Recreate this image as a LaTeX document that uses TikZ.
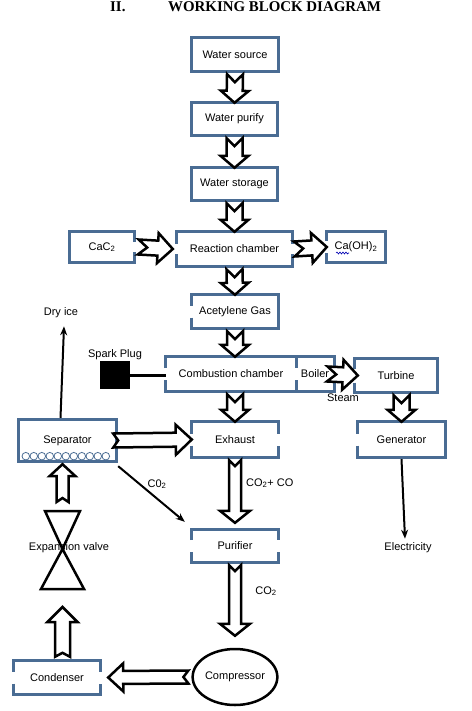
\documentclass[tikz,border=0pt]{standalone}
\usepackage{fontspec}
\setmainfont{Liberation Sans}
\newfontfamily\titlefont{Liberation Serif}
\usetikzlibrary{calc,shapes.geometric,decorations.pathmorphing,arrows.meta}
\definecolor{bdblue}{HTML}{4A6C93}
\tikzset{
  bd/.style={draw=bdblue, line width=3pt, line join=miter},
  lbl/.style={font=\fontsize{11}{13}\selectfont, inner sep=0pt},
  blk/.style={lbl, draw=none},
  barr/.style={draw=black, fill=white, line width=2.5pt, line join=miter},
  tarrow/.style={-{Stealth[length=9pt,width=7pt]}, line width=2pt},
  ttl/.style={font=\titlefont\bfseries\fontsize{14.9}{16}\selectfont, inner sep=0pt, anchor=base west}
}
\newcommand\bxFull[1]{\draw[bd] (#1.north west) rectangle (#1.south east);}
\newcommand\bxGL[2]{\draw[bd] ($(#1.west)+(0,#2)$) -- (#1.south west) -- (#1.south east) -- (#1.north east) -- (#1.north west) -- ($(#1.west)+(0,-#2)$);}
\newcommand\bxGR[2]{\draw[bd] ($(#1.east)+(0,-#2)$) -- (#1.north east) -- (#1.north west) -- (#1.south west) -- (#1.south east) -- ($(#1.east)+(0,#2)$);}
\newcommand\bxGB[2]{\draw[bd] ($(#1.west)+(0,-#2)$) -- (#1.north west) -- (#1.north east) -- ($(#1.east)+(0,-#2)$);
  \draw[bd] ($(#1.west)+(0,#2)$) -- (#1.south west) -- (#1.south east) -- ($(#1.east)+(0,#2)$);}
% block arrow: #1 tail, #2 tip, #3 half shaft, #4 half head, #5 head length, #6 notch depth
\newcommand\barw[6]{%
  \coordinate (bA) at #1; \coordinate (bB) at #2;
  \coordinate (bH) at ($(bB)!#5pt!(bA)$);
  \draw[barr] ($(bA)!#3pt!-90:(bB)$) -- ($(bH)!#3pt!-90:(bB)$) -- ($(bH)!#4pt!-90:(bB)$) -- (bB)
    -- ($(bH)!#4pt!90:(bB)$) -- ($(bH)!#3pt!90:(bB)$) -- ($(bA)!#3pt!90:(bB)$) -- ($(bA)!#6pt!(bB)$) -- cycle;}
\begin{document}
\begin{tikzpicture}[x=1pt,y=-1pt]
\useasboundingbox (0,0) rectangle (471,711);
\node[ttl] (t1) at (110,12) {II.};
\node[ttl] (t2) at (168,12) {WORKING BLOCK DIAGRAM};

% nodes
\node[blk, minimum width=86, minimum height=33] (ws) at (235,54.5) {Water source};
\node[blk, minimum width=85, minimum height=32] (wp) at (234.5,119) {Water purify};
\node[blk, minimum width=85, minimum height=32] (wst) at (234.5,184) {Water storage};
\node[blk, minimum width=64, minimum height=30] (cac) at (102,247) {CaC\textsubscript{2}};
\node[blk, minimum width=115, minimum height=34] (rc) at (234.5,249) {Reaction chamber};
\node[blk, minimum width=58, minimum height=30] (caoh) at (356,247) {Ca(OH)\textsubscript{2}};
\node[blk, minimum width=86, minimum height=33] (ag) at (235,311.5) {Acetylene Gas};
\node[blk, minimum width=130, minimum height=34] (cc) at (231,374) {Combustion chamber};
\node[blk, minimum width=38, minimum height=34] (bl) at (315,374) {Boiler};
\node[blk, minimum width=82, minimum height=33] (tb) at (396,375.5) {Turbine};
\node[blk, minimum width=97, minimum height=41] (sep) at (67.5,440.5) {Separator};
\node[blk, minimum width=86, minimum height=35] (ex) at (235,439.5) {Exhaust};
\node[blk, minimum width=87, minimum height=35] (gen) at (401.5,439.5) {Generator};
\node[blk, minimum width=86, minimum height=32] (pur) at (235,546) {Purifier};
\node[blk, minimum width=86, minimum height=33] (cond) at (57,677.5) {Condenser};
\node[ellipse, draw, line width=2.5pt, minimum width=68, minimum height=56, inner sep=0pt, font=\fontsize{11}{13}\selectfont] (comp) at (235,677) {Compressor};
\node[fill=black, minimum width=30, minimum height=28, inner sep=0pt] (sp) at (115,375) {};

% labels
\node[lbl] (dry) at (61,313) {Dry ice};
\node[lbl] (spl) at (115,355) {Spark Plug};
\node[lbl] (stm) at (343,398) {Steam};
\node[lbl] (co2a) at (157,484) {C0\textsubscript{2}};
\node[lbl, anchor=west] (co2b) at (246,483) {CO\textsubscript{2}+ CO};
\node[lbl] (co2c) at (266,591) {CO\textsubscript{2}};
\node[lbl] (el) at (408,548) {Electricity};

% box borders
\bxFull{ws}
\bxFull{wp}
\bxFull{wst}
\bxGR{cac}{5}
\bxGB{rc}{5}
\bxGL{caoh}{6}
\bxGL{ag}{6}
\draw[bd] ($(cc.west)+(0,-6)$) -- (cc.north west) -- (bl.north east) -- ($(bl.east)+(0,-6)$);
\draw[bd] ($(cc.west)+(0,6)$) -- (cc.south west) -- (bl.south east) -- ($(bl.east)+(0,6)$);
\draw[bd] (cc.north east) -- ($(cc.east)+(0,-6)$);
\draw[bd] ($(cc.east)+(0,6)$) -- (cc.south east);
\bxGL{tb}{7}
\bxFull{sep}
\foreach \i in {0,...,10} {\draw[bdblue, line width=0.8pt] ($(sep.south west)+(7+8*\i,-5)$) circle[radius=3.8];}
\bxGB{ex}{6}
\bxGL{gen}{6}
\bxGB{pur}{6}
\bxGB{cond}{6}

% squiggle under Ca
\draw[blue!70!black, line width=0.6pt, decorate, decoration={snake, segment length=3pt, amplitude=1pt}] ($(caoh.center)+(-20,6)$) -- ($(caoh.center)+(-7,6)$);

% spark plug connection
\draw[line width=3pt] (sp.east) -- (sp.east -| cc.west);

% expansion valve
\coordinate (vtop) at (62.5,511);
\coordinate (vmid) at (62.5,549);
\coordinate (vbot) at (62.5,589);
\draw[line width=2.5pt, line join=miter] (45,511) -- (80,511) -- (vmid) -- cycle;
\draw[line width=2.5pt, line join=miter] (41,589) -- (84,589) -- (vmid) -- cycle;
\node[lbl] (ev) at (69,548) {Expansion valve};

% block arrows (vertical small)
\barw{($(ws.south)+(0,3)$)}{(wp.north)}{8}{14}{12}{8}
\barw{($(wp.south)+(0,3)$)}{(wst.north)}{8}{14}{12}{8}
\barw{($(wst.south)+(0,3)$)}{(rc.north)}{8}{14}{12}{8}
\barw{($(rc.south)+(0,3)$)}{(ag.north)}{8}{14}{12}{8}
\barw{($(ag.south)+(0,3)$)}{(ag.south |- cc.north)}{8}{14}{12}{8}
\barw{($(cc.south -| ex.north)+(0,3)$)}{(ex.north)}{8}{14}{12}{8}
\barw{($(tb.south -| gen.north)+(0,3)$)}{(gen.north)}{8}{14}{12}{8}
% horizontal small
\barw{($(cac.east)+(4,0)$)}{($(rc.west)+(-4,0)$)}{7.5}{15}{15}{9}
\barw{($(rc.east)+(2,0)$)}{(caoh.west)}{7.5}{15}{15}{9}
\barw{($(bl.east)+(-7,0)$)}{($(tb.west)+(3,0)$)}{7.5}{15}{15}{9}
% long arrows
\barw{($(ex.south)+(0,3)$)}{($(pur.north)+(0,-7)$)}{6}{15}{12}{6}
\barw{($(pur.south)+(0,3)$)}{($(comp.north)+(0,-12)$)}{6}{15}{12}{6}
\barw{($(sep.east)+(-3,0)$)}{(ex.west)}{7}{15}{16}{5}
\barw{($(comp.west)+(-3,0)$)}{($(cond.east)+(8,0)$)}{6.5}{14}{15}{5}
\barw{($(vtop)+(0,-9)$)}{($(sep.south -| vtop)+(0,3)$)}{6}{13}{12}{4}
\barw{($(cond.north -| vtop)+(0,-4)$)}{($(vbot)+(0,18)$)}{7.5}{15}{15}{4}

% thin arrows
\draw[tarrow] ($(sep.north)+(-7,-2)$) -- ($(dry.south)+(3,8)$);
\draw[tarrow] ($(gen.south)+(0,2)$) -- ($(el.north)+(-3,-4)$);
\draw[tarrow] ($(sep.south east)+(2,5)$) -- ($(pur.north west)+(-7,-8)$);
\end{tikzpicture}
\end{document}
